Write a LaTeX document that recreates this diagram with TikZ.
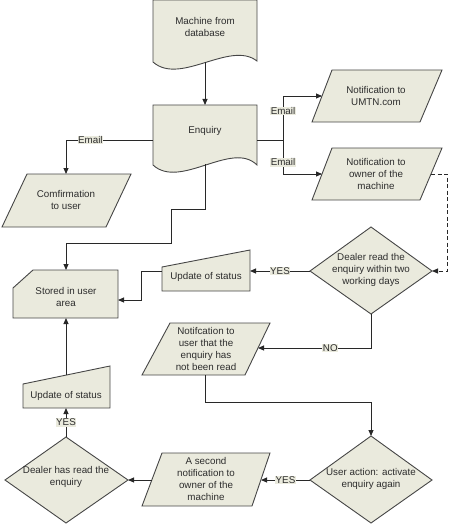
\documentclass[tikz,border=0pt]{standalone}
\usepackage{fontspec}
\setmainfont{Liberation Sans}
\usetikzlibrary{arrows.meta}
\definecolor{boxfill}{RGB}{234,234,221}
\definecolor{boxline}{RGB}{70,70,70}
\definecolor{lineclr}{RGB}{40,40,40}
\definecolor{txtclr}{RGB}{45,45,45}
\tikzset{
  shp/.style={fill=boxfill, draw=boxline, line width=0.9pt, line join=miter},
  con/.style={draw=lineclr, line width=0.9pt},
  arr/.style={con, -{Triangle[length=6pt,width=5pt]}},
  txt/.style={align=center, text=txtclr, inner sep=0pt, font=\fontsize{9.8}{12}\selectfont},
  lbl/.style={fill=boxfill, text=txtclr, inner sep=0.6pt, font=\fontsize{9.8}{11}\selectfont}
}
\begin{document}
\begin{tikzpicture}[x=1pt,y=-1pt]
\useasboundingbox (0,0) rectangle (450,524);

% Machine from database
\path[shp] (153,0) -- (257,0) -- (257,61) .. controls (230,40) and (180,86) .. (153,62) -- cycle;
\node[txt] (machine) at (205,27) {Machine from\\database};
\coordinate (machineB) at (205,62);

% Enquiry
\path[shp] (153,105) -- (257,105) -- (257,165) .. controls (232,140) and (180,190) .. (153,165) -- cycle;
\node[txt] (enq) at (205,131) {Enquiry};
\coordinate (enqT) at (205,105);
\coordinate (enqL) at (153,140);
\coordinate (enqR) at (257,140);
\coordinate (enqB) at (205,164);

% Comfirmation to user
\path[shp] (27,174) -- (131,174) -- (106,227) -- (2,227) -- cycle;
\node[txt] (conf) at (66,200) {Comfirmation\\to user};
\coordinate (confT) at (66,174);

% Notification to UMTN.com
\path[shp] (332,70) -- (442,70) -- (420,122) -- (312,122) -- cycle;
\node[txt] (umtn) at (376,96) {Notification to\\UMTN.com};
\coordinate (umL) at (322,96);

% Notification to owner
\path[shp] (332,148) -- (442,148) -- (420,200) -- (312,200) -- cycle;
\node[txt] (owner) at (376,174) {Notification to\\owner of the\\machine};
\coordinate (owL) at (322,174);
\coordinate (owR) at (431,174);

% Dealer read diamond
\path[shp] (371,227) -- (432,271) -- (371,314) -- (310,271) -- cycle;
\node[txt] (dealer) at (371,270) {Dealer read the\\enquiry within two\\working days};
\coordinate (dlL) at (310,271);
\coordinate (dlR) at (432,271);
\coordinate (dlB) at (371,314);

% Update of status 1
\path[shp] (162,267) -- (250,250) -- (250,291) -- (162,291) -- cycle;
\node[txt] (upd1) at (206,277) {Update of status};
\coordinate (up1R) at (250,271);
\coordinate (up1L) at (162,271);

% Stored in user area
\path[shp] (33,270) -- (118,270) -- (118,318) -- (13,318) -- (13,288) -- cycle;
\node[txt] (stored) at (66,297) {Stored in user\\area};
\coordinate (stT) at (66,270);
\coordinate (stR) at (118,300);
\coordinate (stB) at (66,318);

% Notification to user
\path[shp] (170,323) -- (270,323) -- (245,375) -- (142,375) -- cycle;
\node[txt] (nuser) at (206,349) {Notifcation to\\user that the\\enquiry has\\not been read};
\coordinate (nuR) at (258,348);
\coordinate (nuB) at (205,375);

% User action diamond
\path[shp] (371,436) -- (432,480) -- (371,523) -- (310,480) -- cycle;
\node[txt] (uact) at (371,479) {User action: activate\\enquiry again};
\coordinate (uaT) at (371,436);
\coordinate (uaL) at (310,480);

% Second notification
\path[shp] (162,453) -- (270,453) -- (252,506) -- (142,506) -- cycle;
\node[txt] (second) at (206,479) {A second\\notification to\\owner of the\\machine};
\coordinate (snR) at (261,480);
\coordinate (snL) at (152,480);

% Dealer has read diamond
\path[shp] (66,437) -- (128,480) -- (66,523) -- (5,480) -- cycle;
\node[txt] (dhas) at (66,477) {Dealer has read the\\enquiry};
\coordinate (dhT) at (66,437);
\coordinate (dhR) at (128,480);

% Update of status 2
\path[shp] (23,384) -- (110,366) -- (110,408) -- (23,408) -- cycle;
\node[txt] (upd2) at (66,396) {Update of status};
\coordinate (up2B) at (66,408);
\coordinate (up2T) at (66,375);

% helper coordinates
\coordinate (split) at (283,140);
\coordinate (dashTop) at (447,174);
\coordinate (j1) at (141,271);
\coordinate (e1) at (205,209);
\coordinate (e2) at (171,209);
\coordinate (e3) at (171,243);
\coordinate (e4) at (66,243);
\coordinate (j2) at (371,402);

% connectors
\draw[arr] (machineB) -- (enqT);
\draw[arr] (enqL) -| node[lbl, pos=0.36] {Email} (confT);
\draw[con] (enqR) -- (split);
\draw[arr] (split) |- node[lbl, pos=0.33] {Email} (umL);
\draw[arr] (split) |- node[lbl, pos=0.33] {Email} (owL);
\draw[arr, dash pattern=on 4pt off 2.5pt] (owR) -- (dashTop) |- (dlR);
\draw[arr] (dlL) -- node[lbl] {YES} (up1R);
\draw[arr] (up1L) -- (j1) |- (stR);
\draw[arr] (enqB) -- (e1) -- (e2) -- (e3) -- (e4) -- (stT);
\draw[arr] (dlB) |- node[lbl, pos=0.68] {NO} (nuR);
\draw[arr] (nuB) |- (j2) -- (uaT);
\draw[arr] (uaL) -- node[lbl] {YES} (snR);
\draw[arr] (snL) -- (dhR);
\draw[arr] (dhT) -- node[lbl] {YES} (up2B);
\draw[arr] (up2T) -- (stB);
\end{tikzpicture}
\end{document}
